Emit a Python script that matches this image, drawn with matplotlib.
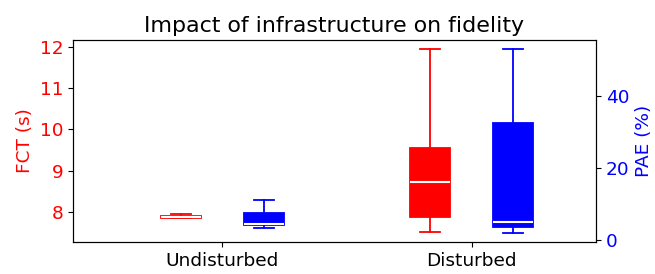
import matplotlib.pyplot as plt

# values
conditions = ['Undisturbed', 'Disturbed']
fct_lo = [7.84, 7.50]
fct_q1 = [7.86, 7.87]
fct_med = [7.87, 8.73]
fct_q3 = [7.90, 9.54]
fct_hi = [7.95, 11.95]
pae_lo = [3.4, 2.0]
pae_q1 = [4.1, 3.5]
pae_med = [4.4, 5.1]
pae_q3 = [7.6, 32.3]
pae_hi = [11.1, 52.9]

plt.rcParams['font.size'] = 13.3

fig, ax1 = plt.subplots(figsize=(6.55, 2.74), dpi=100)
fig.subplots_adjust(left=0.1115, right=0.91, top=0.854, bottom=0.117)
ax2 = ax1.twinx()


def stats(lo, q1, med, q3, hi):
    return [dict(whislo=a, q1=b, med=c, q3=d, whishi=e, fliers=[])
            for a, b, c, d, e in zip(lo, q1, med, q3, hi)]


pos = [1, 2]
off = 0.167


def draw(ax, st, positions, color):
    ax.bxp(st, positions=positions, widths=0.16, patch_artist=True,
           showfliers=False,
           boxprops=dict(facecolor=color, edgecolor=color, linewidth=1.3),
           whiskerprops=dict(color=color, linewidth=1.3),
           capprops=dict(color=color, linewidth=1.3),
           medianprops=dict(color='white', linewidth=1.5))


draw(ax1, stats(fct_lo, fct_q1, fct_med, fct_q3, fct_hi), [p - off for p in pos], 'red')
draw(ax2, stats(pae_lo, pae_q1, pae_med, pae_q3, pae_hi), [p + off for p in pos], 'blue')

ax1.set_xlim(0.4, 2.5)
ax1.set_xticks(pos)
ax1.set_xticklabels(conditions)
ax1.set_ylim(7.27, 12.17)
ax1.set_yticks([8, 9, 10, 11, 12])
ax2.set_ylim(-0.55, 55.4)
ax2.set_yticks([0, 20, 40])

ax1.set_ylabel('FCT (s)', color='red')
ax2.set_ylabel('PAE (%)', color='blue')
ax1.tick_params(axis='y', labelcolor='red')
ax2.tick_params(axis='y', labelcolor='blue')
ax1.set_title('Impact of infrastructure on fidelity')

plt.savefig('out.png')
